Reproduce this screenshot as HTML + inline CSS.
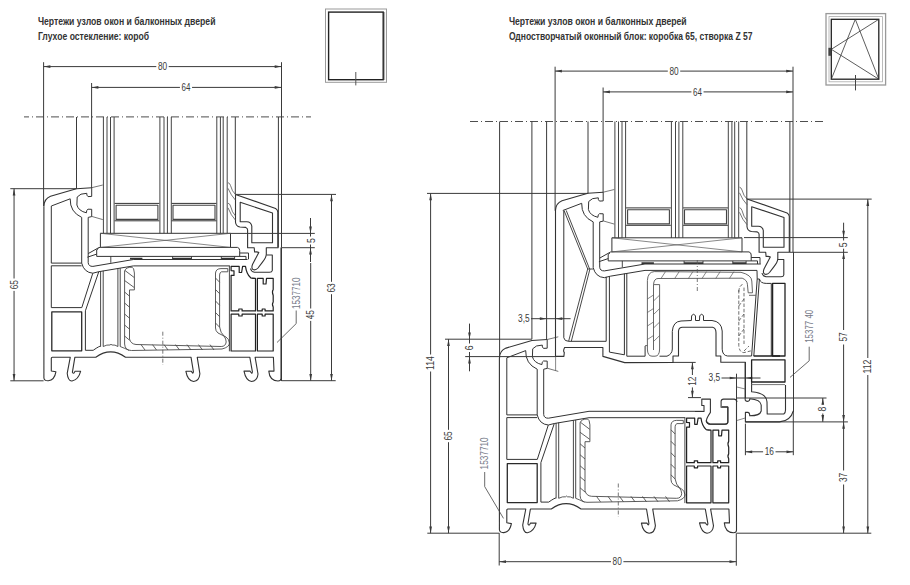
<!DOCTYPE html>
<html><head><meta charset="utf-8">
<style>
html,body{margin:0;padding:0;background:#fff;width:910px;height:585px;overflow:hidden}
svg{display:block}
.t{font-family:"Liberation Sans",sans-serif;font-weight:bold;font-size:10px;fill:#333}
.d{font-family:"Liberation Sans",sans-serif;font-size:10.2px;fill:#3a3a3a}
.lb{font-family:"Liberation Sans",sans-serif;font-size:10.8px;fill:#767a88}
</style></head><body>
<svg width="910" height="585" viewBox="0 0 910 585">
<text class="t" x="37.9" y="24.6" textLength="177.6" lengthAdjust="spacingAndGlyphs">Чертежи узлов окон и балконных дверей</text>
<text class="t" x="37.9" y="39.7" textLength="111.2" lengthAdjust="spacingAndGlyphs">Глухое остекление: короб</text>
<text class="t" x="508.9" y="24.6" textLength="177.8" lengthAdjust="spacingAndGlyphs">Чертежи узлов окон и балконных дверей</text>
<text class="t" x="508.9" y="39.7" textLength="243.6" lengthAdjust="spacingAndGlyphs">Одностворчатый оконный блок: коробка 65, створка Z 57</text>
<g fill="none">
<rect x="325.5" y="9" width="61" height="73.3" stroke="#9a9a9a" stroke-width="1"/>
<rect x="328.6" y="12.1" width="54.6" height="67.6" stroke="#222" stroke-width="1.4"/>
<line x1="384.6" y1="12" x2="384.6" y2="80" stroke="#aaa" stroke-width="1"/>
<line x1="355.8" y1="72" x2="355.8" y2="85.4" stroke="#555" stroke-width="1"/>
</g>
<g fill="none">
<rect x="826" y="13.6" width="59.6" height="71.4" stroke="#999" stroke-width="1.3"/>
<rect x="829" y="16.6" width="53.4" height="65.2" stroke="#aaa" stroke-width="0.8"/>
<rect x="831.3" y="19.3" width="47.5" height="59.9" stroke="#222" stroke-width="1.3"/>
<path d="M831.3,79.2 L855.3,19.3 L878.8,79.2 M878.8,19.3 L831.3,49.3 L878.8,79.2" stroke="#333" stroke-width="0.8"/>
<rect x="828.4" y="47.8" width="2.8" height="8" fill="#444" stroke="none"/>
<line x1="855.5" y1="75" x2="855.5" y2="90.4" stroke="#444" stroke-width="1"/>
</g>
<path d="M103.4,117 L103.4,233.3 M107,117 L107,233.3 M110.5,117 L110.5,233.3 M114.1,117 L114.1,233.3" fill="none" stroke="#444" stroke-width="1.0" stroke-linejoin="round" />
<path d="M159.9,117 L159.9,233.3 M164,117 L164,233.3 M167.4,117 L167.4,233.3 M171.3,117 L171.3,233.3" fill="none" stroke="#444" stroke-width="1.0" stroke-linejoin="round" />
<path d="M216.8,117 L216.8,233.3 M220.4,117 L220.4,233.3 M223.2,117 L223.2,233.3 M227.2,117 L227.2,233.3" fill="none" stroke="#444" stroke-width="1.0" stroke-linejoin="round" />
<path d="M114.6,203.4 L159.3,203.4 M114.6,220.8 L159.3,220.8 M171.6,203.4 L216.4,203.4 M171.6,220.8 L216.4,220.8" fill="none" stroke="#333" stroke-width="1.0" stroke-linejoin="round" />
<path d="M116.1,205.2 L157.9,205.2 L157.9,219.4 L116.1,219.4 Z M173,205.2 L215,205.2 L215,219.4 L173,219.4 Z" fill="none" stroke="#444" stroke-width="1.1" stroke-linejoin="round" />
<path d="M100.4,233.3 L230.5,233.3 L230.5,247.4 L100.4,247.4 Z" fill="none" stroke="#333" stroke-width="1.0" stroke-linejoin="round" />
<path d="M100.4,233.3 L230.5,247.4 M100.4,247.4 L230.5,233.3" fill="none" stroke="#555" stroke-width="0.7" stroke-linejoin="round" />
<path d="M100.3,247.5 L99,247.5 L88.2,253.6 M98.4,248.6 L96.7,249.8 L96.7,256.4 L246,256.4 L246,259.5 M96.7,254.1 L87.4,257.2" fill="none" stroke="#333" stroke-width="1.0" stroke-linejoin="round" />
<path d="M230.5,247.4 L237.5,247.4 Q239.7,248 239.7,250.5 L239.7,256.4" fill="none" stroke="#333" stroke-width="1.0" stroke-linejoin="round" />
<path d="M172.6,256.4 L172.6,259.5 M191.5,256.4 L191.5,259.5 M221.3,256.4 L221.3,259.5 M234.6,256.4 L234.6,259.5 M110.8,256.4 L110.8,262.8" fill="none" stroke="#333" stroke-width="0.9" stroke-linejoin="round" />
<path d="M130,258.6 L142.4,258.6 M172.6,258.6 L191.5,258.6 M221.3,258.6 L234.6,258.6" fill="none" stroke="#333" stroke-width="1.6" stroke-linejoin="round" />
<path d="M239.7,253 L248.5,253 L248.5,259.3" fill="none" stroke="#333" stroke-width="1.0" stroke-linejoin="round" />
<path d="M235.5,194.5 L275.6,208.4 Q277.6,209.5 277.8,212 L277.8,247.6 M240.2,202.2 L272.5,213 L272.5,242.8 L251.8,242.8 L251.8,226 Q251,221.7 246.8,221.7 L240.2,221.7 Z" fill="none" stroke="#333" stroke-width="1.1" stroke-linejoin="round" />
<path d="M235.5,194.4 L235.5,222.2 Q236,226.3 240,227 L245.8,227.4 Q247.6,228 247.6,230 L247.6,247.7 L254.2,247.7 L254.6,252 Q257.5,251.5 258.8,252.5 L252.6,264.2 Q251,268.3 253,269.6 Q255.8,270.5 258,268 L262.3,262.3 Q266.3,257.5 266.3,254 L266.3,247.7 L278.5,247.7" fill="none" stroke="#333" stroke-width="1.1" stroke-linejoin="round" />
<path d="M228,182.7 Q229.8,183 230.5,185.5 Q232,191.5 235.5,194.5 M228,188.3 Q231,195.5 235.5,200.2 M228,203.2 Q229.8,203.5 230.5,206 Q232,212.5 235.5,216 M228,207.8 Q231,215.5 235.5,220.2" fill="none" stroke="#555" stroke-width="0.8" stroke-linejoin="round" />
<line x1="281.5" y1="62.2" x2="281.5" y2="247.5" stroke="#3a3a3a" stroke-width="1.0"/>
<line x1="278.4" y1="117" x2="278.4" y2="247.5" stroke="#3a3a3a" stroke-width="1.0"/>
<line x1="76.5" y1="117" x2="76.5" y2="188.7" stroke="#3a3a3a" stroke-width="1.0"/>
<line x1="235.3" y1="117" x2="235.3" y2="194.4" stroke="#3a3a3a" stroke-width="1.0"/>
<line x1="43.6" y1="62.2" x2="43.6" y2="206" stroke="#3a3a3a" stroke-width="1.0"/>
<line x1="91.6" y1="83" x2="91.6" y2="188" stroke="#3a3a3a" stroke-width="1.0"/>
<path d="M43.60,66.60 L50.40,65.25 L50.40,67.95z" fill="#3a3a3a"/>
<path d="M281.50,66.60 L274.70,67.95 L274.70,65.25z" fill="#3a3a3a"/>
<line x1="43.6" y1="66.6" x2="156.3" y2="66.6" stroke="#3a3a3a" stroke-width="1.0"/>
<line x1="168.7" y1="66.6" x2="281.5" y2="66.6" stroke="#3a3a3a" stroke-width="1.0"/>
<text class="d" x="157.90" y="70.25" textLength="9.20" lengthAdjust="spacingAndGlyphs">80</text>
<path d="M91.60,87.40 L98.40,86.05 L98.40,88.75z" fill="#3a3a3a"/>
<path d="M281.50,87.40 L274.70,88.75 L274.70,86.05z" fill="#3a3a3a"/>
<line x1="91.6" y1="87.4" x2="179.95" y2="87.4" stroke="#3a3a3a" stroke-width="1.0"/>
<line x1="192.05" y1="87.4" x2="281.5" y2="87.4" stroke="#3a3a3a" stroke-width="1.0"/>
<text class="d" x="181.55" y="91.05" textLength="8.90" lengthAdjust="spacingAndGlyphs">64</text>
<line x1="281.5" y1="247.5" x2="281.5" y2="381" stroke="#3a3a3a" stroke-width="1.0"/>
<line x1="24" y1="116.9" x2="311" y2="116.9" stroke="#444" stroke-width="0.95" stroke-dasharray="8 3 1 3" stroke-dashoffset="3"/>
<line x1="10.3" y1="188.7" x2="76.4" y2="188.7" stroke="#3a3a3a" stroke-width="1.0"/>
<line x1="10.3" y1="380.8" x2="43.6" y2="380.8" stroke="#3a3a3a" stroke-width="1.0"/>
<path d="M14.05,188.70 L15.40,195.50 L12.70,195.50z" fill="#3a3a3a"/>
<path d="M14.05,380.80 L12.70,374.00 L15.40,374.00z" fill="#3a3a3a"/>
<line x1="14.05" y1="188.7" x2="14.05" y2="278.5" stroke="#3a3a3a" stroke-width="1.0"/>
<line x1="14.05" y1="290.9" x2="14.05" y2="380.8" stroke="#3a3a3a" stroke-width="1.0"/>
<text class="d" transform="translate(14.05,284.70) rotate(-90)" x="-4.60" y="3.65" textLength="9.20" lengthAdjust="spacingAndGlyphs">65</text>
<line x1="235.3" y1="194.4" x2="336" y2="194.4" stroke="#3a3a3a" stroke-width="1.0"/>
<line x1="230.5" y1="233.4" x2="314.8" y2="233.4" stroke="#3a3a3a" stroke-width="1.0"/>
<line x1="281.5" y1="247.7" x2="314.8" y2="247.7" stroke="#3a3a3a" stroke-width="1.0"/>
<line x1="281.5" y1="380.7" x2="335.7" y2="380.7" stroke="#3a3a3a" stroke-width="1.0"/>
<path d="M331.50,194.40 L332.85,201.20 L330.15,201.20z" fill="#3a3a3a"/>
<path d="M331.50,380.70 L330.15,373.90 L332.85,373.90z" fill="#3a3a3a"/>
<line x1="331.5" y1="194.4" x2="331.5" y2="281.8" stroke="#3a3a3a" stroke-width="1.0"/>
<line x1="331.5" y1="294.2" x2="331.5" y2="380.7" stroke="#3a3a3a" stroke-width="1.0"/>
<text class="d" transform="translate(331.50,288.00) rotate(-90)" x="-4.60" y="3.65" textLength="9.20" lengthAdjust="spacingAndGlyphs">63</text>
<path d="M310.50,233.40 L309.15,226.60 L311.85,226.60z" fill="#3a3a3a"/>
<line x1="310.5" y1="218" x2="310.5" y2="236.5" stroke="#3a3a3a" stroke-width="1.0"/>
<path d="M310.50,247.70 L311.85,254.50 L309.15,254.50z" fill="#3a3a3a"/>
<line x1="310.5" y1="244.5" x2="310.5" y2="262" stroke="#3a3a3a" stroke-width="1.0"/>
<text class="d" transform="translate(311.00,240.60) rotate(-90)" x="-2.40" y="3.65" textLength="4.80" lengthAdjust="spacingAndGlyphs">5</text>
<path d="M310.70,380.70 L309.35,373.90 L312.05,373.90z" fill="#3a3a3a"/>
<line x1="310.7" y1="263" x2="310.7" y2="308.5" stroke="#3a3a3a" stroke-width="1.0"/>
<line x1="310.7" y1="320.9" x2="310.7" y2="380.7" stroke="#3a3a3a" stroke-width="1.0"/>
<text class="d" transform="translate(310.70,314.70) rotate(-90)" x="-4.60" y="3.65" textLength="9.20" lengthAdjust="spacingAndGlyphs">45</text>
<text class="lb" transform="translate(296.50,293.20) rotate(-90)" x="-15.75" y="3.65" textLength="31.50" lengthAdjust="spacingAndGlyphs">1537710</text>
<path d="M296.2,310.5 L296.2,323.6 L277,342.5" fill="none" stroke="#444" stroke-width="0.8" stroke-linejoin="round" />
<path d="M91.7,187.7 L76.4,188.7 L50.5,196.3 Q44.2,198.8 43.9,206.2" fill="none" stroke="#333" stroke-width="1.1" stroke-linejoin="round" />
<path d="M51.3,206 L70.2,198.8 Q69.8,212 81.7,217.4 L81.7,263.1 Q84,272.5 92.8,273.2 L98.8,271.7 L133.5,265.9" fill="none" stroke="#333" stroke-width="1.0" stroke-linejoin="round" />
<path d="M91.7,187.7 L91.7,196.4 L88,196.6 Q86.4,195.3 86.8,193.3 Q80,193.2 77.2,197 L76.9,205 Q78.5,211 86.4,212.8 Q86.3,209.8 88,209.2 L91.7,209.3 L91.7,216.6 L88.2,217.4 L88.2,262.7 Q88.5,266.5 92.9,266.4 L133.5,259.5" fill="none" stroke="#333" stroke-width="1.0" stroke-linejoin="round" />
<path d="M91.7,187.7 L102.8,185 M91.7,216.4 L102.8,219.6" fill="none" stroke="#555" stroke-width="0.8" stroke-linejoin="round" />
<path d="M266.5,255 L272.3,255 L272.3,270.5 Q272,272.3 269.5,272.3 L254.5,272.3 Q251,271.5 250.5,268.5" fill="none" stroke="#333" stroke-width="1.1" stroke-linejoin="round" />
<path d="M43.9,206.2 L43.9,378 Q44.3,381 48.3,380.8 Q54.5,380 55.9,371.8 L51.3,371 L51.3,358.2 Q51.3,357.2 52.3,357.2 L70.3,357.2 L67.2,373.3 Q68,381.3 72,381 Q78.5,379.5 80.6,371.3 L74.9,371.3 Q73.8,374.8 72.4,372.2 L74.9,357.2 L95.8,357.2 Q110.6,346.5 125.5,357.2 L191,357.2 L193.4,371.6 Q193,374.8 191.4,371.3 L185.9,371.3 Q187.5,380.5 193.6,381.5 Q199.3,381 199.9,373.8 L197.2,357.2 L249.8,357.2 L252.4,371.8 Q252,374.8 250,371.1 L244,371.1 Q245.8,380.5 251.5,381.5 Q257.3,381 258,374 L255.1,357.2 L273.4,357.2 L274,371.1 L268.8,371.1 Q269.5,380.5 278,381 Q281,381 281,378.5 L281,247.4" fill="none" stroke="#333" stroke-width="1.1" stroke-linejoin="round" />
<path d="M51.3,206 L51.3,263.1 L81.7,263.1" fill="none" stroke="#333" stroke-width="1.0" stroke-linejoin="round" />
<path d="M51.3,265.8 L81.6,265.8 M92.8,273.2 L81.8,307.6 L51.3,307.6 L51.3,265.8" fill="none" stroke="#333" stroke-width="1.0" stroke-linejoin="round" />
<path d="M133.5,265.9 L229.8,265.9 M133.5,259.5 L247.5,259.5" fill="none" stroke="#333" stroke-width="1.0" stroke-linejoin="round" />
<path d="M98.8,271.7 L85.4,310.8 L85.4,350.3 L93.2,350.3 Q100,345.5 100.6,346.4" fill="none" stroke="#333" stroke-width="1.0" stroke-linejoin="round" />
<path d="M51.8,311.9 L81.7,311.9 L81.7,350.8 L51.8,350.8 Z" fill="none" stroke="#2a2a2a" stroke-width="1.3" stroke-linejoin="round" />
<path d="M100.6,271.2 L100.6,346.5 M103.2,270.8 L103.2,346.5 M117.9,268.5 L117.9,346.5 M120.2,268.2 L120.2,346.5" fill="none" stroke="#333" stroke-width="0.9" stroke-linejoin="round" />
<path d="M103.2,346.5 Q107,344.5 110,345 Q111,343.5 112,345 Q115,344.5 117.9,346.5" fill="none" stroke="#333" stroke-width="0.8" stroke-linejoin="round" />
<path d="M120.2,346.5 Q124,348 129,350.3" fill="none" stroke="#333" stroke-width="0.8" stroke-linejoin="round" />
<path d="M132,267.2 Q126,267 124.6,271 L124.6,344 Q125,350.5 131.5,350.5 L222,349 Q229.5,347 229.5,343 Q229,339 226,337 L218,333 Q215.5,331 215.5,328 L215.5,273 Q216,268.6 221,268.6 L227.8,268.6 L227.8,271.8 L221.5,271.8 Q219.6,272.5 219.6,275 L219.6,327 Q220.5,333 224,336 Q226.2,339 226.2,342 Q225.5,346.5 221.2,346.5 L136,344.5 Q130.8,344 129.5,339 L129.5,289.9 L134.4,289.9 L134.4,273 Q134,267.5 132,267.2" fill="none" stroke="#4a4a4a" stroke-width="0.9" stroke-linejoin="round" />
<path d="M125,270.5 L134.2,277.5 M124.6,280.5 L134.2,287.5 M124.6,292 L129.5,296.2 M124.6,303 L129.5,307.2 M124.6,314 L129.5,318.2 M124.6,325 L129.5,329.2 M124.6,336 L129.5,340.2 M215.5,278 L219.6,282.2 M215.5,289.5 L219.6,293.7 M215.5,301 L219.6,305.2 M215.5,312.5 L219.6,316.7 M215.5,323 L219.6,327.2 M141,344.6 L145,350 M152.5,344.6 L156.5,350 M164,344.6 L168,350 M175.5,344.6 L179.5,350 M187,344.6 L191,350 M198.5,344.6 L202.5,350 M210,344.6 L214,350" fill="none" stroke="#444" stroke-width="0.85" stroke-linejoin="round" />
<line x1="162.8" y1="331.7" x2="162.8" y2="365" stroke="#555" stroke-width="0.8" stroke-dasharray="4 2 1 2"/>
<path d="M229.4,265.9 L229.4,351.3" fill="none" stroke="#333" stroke-width="0.9" stroke-linejoin="round" />
<path d="M231.1,266.3 L239.2,266.3 L239.2,272.5 L241.6,272.5 L242.6,266.3 L245.5,266.3 Q246.5,274 250.7,277.8 Q252.5,278.3 255.5,278.3 L255.5,310.9 L242.1,310.9 L242.1,309 L238.8,309 L238.8,310.9 L231.1,310.9 L231.1,275.4 L234,275.4 L234,270.8 L231.1,270.6 Z" fill="none" stroke="#222" stroke-width="1.2" stroke-linejoin="round" />
<path d="M257.4,278.3 L263.2,278.3 L263.2,284 L266,284 L266.5,278.3 L273.2,278.3 L273.2,289.5 Q271.7,291.5 273.2,295.5 L273.2,302 Q271.7,304 273.2,307 L273.2,310.9 L265.1,310.9 L265.1,309 L262.2,309 L262.2,310.9 L257.4,310.9 Z" fill="none" stroke="#222" stroke-width="1.2" stroke-linejoin="round" />
<path d="M231.1,314.2 L238.8,314.2 L238.8,316 L242.1,316 L242.1,314.2 L255.5,314.2 L255.5,351 L231.1,351 Z" fill="none" stroke="#222" stroke-width="1.2" stroke-linejoin="round" />
<path d="M257.4,314.2 L262.2,314.2 L262.2,316 L265.1,316 L265.1,314.2 L273.2,314.2 L273.2,351 L257.4,351 Z" fill="none" stroke="#222" stroke-width="1.2" stroke-linejoin="round" />
<g transform="translate(455.5,151.8)">
<path d="M91.7,187.7 L76.4,188.7 L50.5,196.3 Q44.2,198.8 43.9,206.2" fill="none" stroke="#333" stroke-width="1.1" stroke-linejoin="round" />
<path d="M51.3,206 L70.2,198.8 Q69.8,212 81.7,217.4 L81.7,263.1 Q84,272.5 92.8,273.2 L98.8,271.7 L133.5,265.9" fill="none" stroke="#333" stroke-width="1.0" stroke-linejoin="round" />
<path d="M91.7,187.7 L91.7,196.4 L88,196.6 Q86.4,195.3 86.8,193.3 Q80,193.2 77.2,197 L76.9,205 Q78.5,211 86.4,212.8 Q86.3,209.8 88,209.2 L91.7,209.3 L91.7,216.6 L88.2,217.4 L88.2,262.7 Q88.5,266.5 92.9,266.4 L133.5,259.5" fill="none" stroke="#333" stroke-width="1.0" stroke-linejoin="round" />
<path d="M91.7,187.7 L102.8,185 M91.7,216.4 L102.8,219.6" fill="none" stroke="#555" stroke-width="0.8" stroke-linejoin="round" />
<path d="M266.5,255 L272.3,255 L272.3,270.5 Q272,272.3 269.5,272.3 L254.5,272.3 Q251,271.5 250.5,268.5" fill="none" stroke="#333" stroke-width="1.1" stroke-linejoin="round" />
<path d="M43.9,206.2 L43.9,378 Q44.3,381 48.3,380.8 Q54.5,380 55.9,371.8 L51.3,371 L51.3,358.2 Q51.3,357.2 52.3,357.2 L70.3,357.2 L67.2,373.3 Q68,381.3 72,381 Q78.5,379.5 80.6,371.3 L74.9,371.3 Q73.8,374.8 72.4,372.2 L74.9,357.2 L95.8,357.2 Q110.6,346.5 125.5,357.2 L191,357.2 L193.4,371.6 Q193,374.8 191.4,371.3 L185.9,371.3 Q187.5,380.5 193.6,381.5 Q199.3,381 199.9,373.8 L197.2,357.2 L249.8,357.2 L252.4,371.8 Q252,374.8 250,371.1 L244,371.1 Q245.8,380.5 251.5,381.5 Q257.3,381 258,374 L255.1,357.2 L273.4,357.2 L274,371.1 L268.8,371.1 Q269.5,380.5 278,381 Q281,381 281,378.5 L281,247.4" fill="none" stroke="#333" stroke-width="1.1" stroke-linejoin="round" />
<path d="M51.3,206 L51.3,263.1 L81.7,263.1" fill="none" stroke="#333" stroke-width="1.0" stroke-linejoin="round" />
<path d="M51.3,265.8 L81.6,265.8 M92.8,273.2 L81.8,307.6 L51.3,307.6 L51.3,265.8" fill="none" stroke="#333" stroke-width="1.0" stroke-linejoin="round" />
<path d="M133.5,265.9 L229.8,265.9 M133.5,259.5 L247.5,259.5" fill="none" stroke="#333" stroke-width="1.0" stroke-linejoin="round" />
<path d="M98.8,271.7 L85.4,310.8 L85.4,350.3 L93.2,350.3 Q100,345.5 100.6,346.4" fill="none" stroke="#333" stroke-width="1.0" stroke-linejoin="round" />
<path d="M51.8,311.9 L81.7,311.9 L81.7,350.8 L51.8,350.8 Z" fill="none" stroke="#2a2a2a" stroke-width="1.3" stroke-linejoin="round" />
<path d="M100.6,271.2 L100.6,346.5 M103.2,270.8 L103.2,346.5 M117.9,268.5 L117.9,346.5 M120.2,268.2 L120.2,346.5" fill="none" stroke="#333" stroke-width="0.9" stroke-linejoin="round" />
<path d="M103.2,346.5 Q107,344.5 110,345 Q111,343.5 112,345 Q115,344.5 117.9,346.5" fill="none" stroke="#333" stroke-width="0.8" stroke-linejoin="round" />
<path d="M120.2,346.5 Q124,348 129,350.3" fill="none" stroke="#333" stroke-width="0.8" stroke-linejoin="round" />
<path d="M132,267.2 Q126,267 124.6,271 L124.6,344 Q125,350.5 131.5,350.5 L222,349 Q229.5,347 229.5,343 Q229,339 226,337 L218,333 Q215.5,331 215.5,328 L215.5,273 Q216,268.6 221,268.6 L227.8,268.6 L227.8,271.8 L221.5,271.8 Q219.6,272.5 219.6,275 L219.6,327 Q220.5,333 224,336 Q226.2,339 226.2,342 Q225.5,346.5 221.2,346.5 L136,344.5 Q130.8,344 129.5,339 L129.5,289.9 L134.4,289.9 L134.4,273 Q134,267.5 132,267.2" fill="none" stroke="#4a4a4a" stroke-width="0.9" stroke-linejoin="round" />
<path d="M125,270.5 L134.2,277.5 M124.6,280.5 L134.2,287.5 M124.6,292 L129.5,296.2 M124.6,303 L129.5,307.2 M124.6,314 L129.5,318.2 M124.6,325 L129.5,329.2 M124.6,336 L129.5,340.2 M215.5,278 L219.6,282.2 M215.5,289.5 L219.6,293.7 M215.5,301 L219.6,305.2 M215.5,312.5 L219.6,316.7 M215.5,323 L219.6,327.2 M141,344.6 L145,350 M152.5,344.6 L156.5,350 M164,344.6 L168,350 M175.5,344.6 L179.5,350 M187,344.6 L191,350 M198.5,344.6 L202.5,350 M210,344.6 L214,350" fill="none" stroke="#444" stroke-width="0.85" stroke-linejoin="round" />
<line x1="162.8" y1="331.7" x2="162.8" y2="365" stroke="#555" stroke-width="0.8" stroke-dasharray="4 2 1 2"/>
<path d="M229.4,265.9 L229.4,351.3" fill="none" stroke="#333" stroke-width="0.9" stroke-linejoin="round" />
<path d="M231.1,266.3 L239.2,266.3 L239.2,272.5 L241.6,272.5 L242.6,266.3 L245.5,266.3 Q246.5,274 250.7,277.8 Q252.5,278.3 255.5,278.3 L255.5,310.9 L242.1,310.9 L242.1,309 L238.8,309 L238.8,310.9 L231.1,310.9 L231.1,275.4 L234,275.4 L234,270.8 L231.1,270.6 Z" fill="none" stroke="#222" stroke-width="1.2" stroke-linejoin="round" />
<path d="M257.4,278.3 L263.2,278.3 L263.2,284 L266,284 L266.5,278.3 L273.2,278.3 L273.2,289.5 Q271.7,291.5 273.2,295.5 L273.2,302 Q271.7,304 273.2,307 L273.2,310.9 L265.1,310.9 L265.1,309 L262.2,309 L262.2,310.9 L257.4,310.9 Z" fill="none" stroke="#222" stroke-width="1.2" stroke-linejoin="round" />
<path d="M231.1,314.2 L238.8,314.2 L238.8,316 L242.1,316 L242.1,314.2 L255.5,314.2 L255.5,351 L231.1,351 Z" fill="none" stroke="#222" stroke-width="1.2" stroke-linejoin="round" />
<path d="M257.4,314.2 L262.2,314.2 L262.2,316 L265.1,316 L265.1,314.2 L273.2,314.2 L273.2,351 L257.4,351 Z" fill="none" stroke="#222" stroke-width="1.2" stroke-linejoin="round" />
</g>
<g transform="translate(511.5,4.5)">
<path d="M103.4,117 L103.4,233.3 M107,117 L107,233.3 M110.5,117 L110.5,233.3 M114.1,117 L114.1,233.3" fill="none" stroke="#444" stroke-width="1.0" stroke-linejoin="round" />
<path d="M159.9,117 L159.9,233.3 M164,117 L164,233.3 M167.4,117 L167.4,233.3 M171.3,117 L171.3,233.3" fill="none" stroke="#444" stroke-width="1.0" stroke-linejoin="round" />
<path d="M216.8,117 L216.8,233.3 M220.4,117 L220.4,233.3 M223.2,117 L223.2,233.3 M227.2,117 L227.2,233.3" fill="none" stroke="#444" stroke-width="1.0" stroke-linejoin="round" />
<path d="M114.6,203.4 L159.3,203.4 M114.6,220.8 L159.3,220.8 M171.6,203.4 L216.4,203.4 M171.6,220.8 L216.4,220.8" fill="none" stroke="#333" stroke-width="1.0" stroke-linejoin="round" />
<path d="M116.1,205.2 L157.9,205.2 L157.9,219.4 L116.1,219.4 Z M173,205.2 L215,205.2 L215,219.4 L173,219.4 Z" fill="none" stroke="#444" stroke-width="1.1" stroke-linejoin="round" />
<path d="M100.4,233.3 L230.5,233.3 L230.5,247.4 L100.4,247.4 Z" fill="none" stroke="#333" stroke-width="1.0" stroke-linejoin="round" />
<path d="M100.4,233.3 L230.5,247.4 M100.4,247.4 L230.5,233.3" fill="none" stroke="#555" stroke-width="0.7" stroke-linejoin="round" />
<path d="M100.3,247.5 L99,247.5 L88.2,253.6 M98.4,248.6 L96.7,249.8 L96.7,256.4 L246,256.4 L246,259.5 M96.7,254.1 L87.4,257.2" fill="none" stroke="#333" stroke-width="1.0" stroke-linejoin="round" />
<path d="M230.5,247.4 L237.5,247.4 Q239.7,248 239.7,250.5 L239.7,256.4" fill="none" stroke="#333" stroke-width="1.0" stroke-linejoin="round" />
<path d="M172.6,256.4 L172.6,259.5 M191.5,256.4 L191.5,259.5 M221.3,256.4 L221.3,259.5 M234.6,256.4 L234.6,259.5 M110.8,256.4 L110.8,262.8" fill="none" stroke="#333" stroke-width="0.9" stroke-linejoin="round" />
<path d="M130,258.6 L142.4,258.6 M172.6,258.6 L191.5,258.6 M221.3,258.6 L234.6,258.6" fill="none" stroke="#333" stroke-width="1.6" stroke-linejoin="round" />
<path d="M239.7,253 L248.5,253 L248.5,259.3" fill="none" stroke="#333" stroke-width="1.0" stroke-linejoin="round" />
<path d="M235.5,194.5 L275.6,208.4 Q277.6,209.5 277.8,212 L277.8,247.6 M240.2,202.2 L272.5,213 L272.5,242.8 L251.8,242.8 L251.8,226 Q251,221.7 246.8,221.7 L240.2,221.7 Z" fill="none" stroke="#333" stroke-width="1.1" stroke-linejoin="round" />
<path d="M235.5,194.4 L235.5,222.2 Q236,226.3 240,227 L245.8,227.4 Q247.6,228 247.6,230 L247.6,247.7 L254.2,247.7 L254.6,252 Q257.5,251.5 258.8,252.5 L252.6,264.2 Q251,268.3 253,269.6 Q255.8,270.5 258,268 L262.3,262.3 Q266.3,257.5 266.3,254 L266.3,247.7 L278.5,247.7" fill="none" stroke="#333" stroke-width="1.1" stroke-linejoin="round" />
<path d="M228,182.7 Q229.8,183 230.5,185.5 Q232,191.5 235.5,194.5 M228,188.3 Q231,195.5 235.5,200.2 M228,203.2 Q229.8,203.5 230.5,206 Q232,212.5 235.5,216 M228,207.8 Q231,215.5 235.5,220.2" fill="none" stroke="#555" stroke-width="0.8" stroke-linejoin="round" />
<line x1="281.5" y1="62.2" x2="281.5" y2="247.5" stroke="#3a3a3a" stroke-width="1.0"/>
<line x1="278.4" y1="117" x2="278.4" y2="247.5" stroke="#3a3a3a" stroke-width="1.0"/>
<line x1="76.5" y1="117" x2="76.5" y2="188.7" stroke="#3a3a3a" stroke-width="1.0"/>
<line x1="235.3" y1="117" x2="235.3" y2="194.4" stroke="#3a3a3a" stroke-width="1.0"/>
<line x1="43.6" y1="62.2" x2="43.6" y2="206" stroke="#3a3a3a" stroke-width="1.0"/>
<line x1="91.6" y1="83" x2="91.6" y2="188" stroke="#3a3a3a" stroke-width="1.0"/>
<path d="M43.60,66.60 L50.40,65.25 L50.40,67.95z" fill="#3a3a3a"/>
<path d="M281.50,66.60 L274.70,67.95 L274.70,65.25z" fill="#3a3a3a"/>
<line x1="43.6" y1="66.6" x2="156.3" y2="66.6" stroke="#3a3a3a" stroke-width="1.0"/>
<line x1="168.7" y1="66.6" x2="281.5" y2="66.6" stroke="#3a3a3a" stroke-width="1.0"/>
<text class="d" x="157.90" y="70.25" textLength="9.20" lengthAdjust="spacingAndGlyphs">80</text>
<path d="M91.60,87.40 L98.40,86.05 L98.40,88.75z" fill="#3a3a3a"/>
<path d="M281.50,87.40 L274.70,88.75 L274.70,86.05z" fill="#3a3a3a"/>
<line x1="91.6" y1="87.4" x2="179.95" y2="87.4" stroke="#3a3a3a" stroke-width="1.0"/>
<line x1="192.05" y1="87.4" x2="281.5" y2="87.4" stroke="#3a3a3a" stroke-width="1.0"/>
<text class="d" x="181.55" y="91.05" textLength="8.90" lengthAdjust="spacingAndGlyphs">64</text>
<path d="M91.7,187.7 L76.4,188.7 L50.5,196.3 Q44.2,198.8 43.9,206.2" fill="none" stroke="#333" stroke-width="1.1" stroke-linejoin="round" />
<path d="M51.3,206 L70.2,198.8 Q69.8,212 81.7,217.4 L81.7,263.1 Q84,272.5 92.8,273.2 L98.8,271.7 L133.5,265.9" fill="none" stroke="#333" stroke-width="1.0" stroke-linejoin="round" />
<path d="M91.7,187.7 L91.7,196.4 L88,196.6 Q86.4,195.3 86.8,193.3 Q80,193.2 77.2,197 L76.9,205 Q78.5,211 86.4,212.8 Q86.3,209.8 88,209.2 L91.7,209.3 L91.7,216.6 L88.2,217.4 L88.2,262.7 Q88.5,266.5 92.9,266.4 L133.5,259.5" fill="none" stroke="#333" stroke-width="1.0" stroke-linejoin="round" />
<path d="M91.7,187.7 L102.8,185 M91.7,216.4 L102.8,219.6" fill="none" stroke="#555" stroke-width="0.8" stroke-linejoin="round" />
<path d="M266.5,255 L272.3,255 L272.3,270.5 Q272,272.3 269.5,272.3 L254.5,272.3 Q251,271.5 250.5,268.5" fill="none" stroke="#333" stroke-width="1.1" stroke-linejoin="round" />
</g>
<line x1="793.5" y1="252" x2="793.5" y2="412" stroke="#3a3a3a" stroke-width="1.0"/>
<line x1="470" y1="121.5" x2="823" y2="121.5" stroke="#444" stroke-width="0.95" stroke-dasharray="8 3 1 3"/>
<line x1="499.6" y1="121.5" x2="499.6" y2="358" stroke="#3a3a3a" stroke-width="1.0"/>
<line x1="531.9" y1="121.5" x2="531.9" y2="339.2" stroke="#3a3a3a" stroke-width="1.0"/>
<line x1="546.6" y1="121.5" x2="546.6" y2="340" stroke="#3a3a3a" stroke-width="1.0"/>
<line x1="427" y1="193.4" x2="588.2" y2="193.4" stroke="#3a3a3a" stroke-width="1.0"/>
<line x1="445" y1="339.2" x2="531.9" y2="339.2" stroke="#3a3a3a" stroke-width="1.0"/>
<line x1="465.2" y1="356.6" x2="555.7" y2="356.6" stroke="#3a3a3a" stroke-width="1.0"/>
<line x1="427.3" y1="533.2" x2="499.4" y2="533.2" stroke="#3a3a3a" stroke-width="1.0"/>
<line x1="736.6" y1="533.2" x2="871.3" y2="533.2" stroke="#3a3a3a" stroke-width="1.0"/>
<line x1="736.3" y1="533.2" x2="736.3" y2="565.7" stroke="#3a3a3a" stroke-width="1.0"/>
<line x1="499.2" y1="533.2" x2="499.2" y2="565.5" stroke="#3a3a3a" stroke-width="1.0"/>
<path d="M430.60,193.40 L431.95,200.20 L429.25,200.20z" fill="#3a3a3a"/>
<path d="M430.60,533.20 L429.25,526.40 L431.95,526.40z" fill="#3a3a3a"/>
<line x1="430.6" y1="193.4" x2="430.6" y2="354.5" stroke="#3a3a3a" stroke-width="1.0"/>
<line x1="430.6" y1="371.5" x2="430.6" y2="533.2" stroke="#3a3a3a" stroke-width="1.0"/>
<text class="d" transform="translate(430.60,363.00) rotate(-90)" x="-6.90" y="3.65" textLength="13.80" lengthAdjust="spacingAndGlyphs">114</text>
<path d="M448.50,339.20 L449.85,346.00 L447.15,346.00z" fill="#3a3a3a"/>
<path d="M448.50,533.20 L447.15,526.40 L449.85,526.40z" fill="#3a3a3a"/>
<line x1="448.5" y1="339.2" x2="448.5" y2="429.8" stroke="#3a3a3a" stroke-width="1.0"/>
<line x1="448.5" y1="442.2" x2="448.5" y2="533.2" stroke="#3a3a3a" stroke-width="1.0"/>
<text class="d" transform="translate(448.50,436.00) rotate(-90)" x="-4.60" y="3.65" textLength="9.20" lengthAdjust="spacingAndGlyphs">65</text>
<path d="M469.50,339.20 L468.15,332.40 L470.85,332.40z" fill="#3a3a3a"/>
<line x1="469.5" y1="323.6" x2="469.5" y2="343.5" stroke="#3a3a3a" stroke-width="1.0"/>
<path d="M469.50,356.60 L470.85,363.40 L468.15,363.40z" fill="#3a3a3a"/>
<line x1="469.5" y1="352" x2="469.5" y2="371.3" stroke="#3a3a3a" stroke-width="1.0"/>
<text class="d" transform="translate(469.60,347.80) rotate(-90)" x="-2.40" y="3.65" textLength="4.80" lengthAdjust="spacingAndGlyphs">6</text>
<text class="d" x="518.00" y="322.35" textLength="11.60" lengthAdjust="spacingAndGlyphs">3,5</text>
<line x1="531" y1="318.7" x2="570.6" y2="318.7" stroke="#3a3a3a" stroke-width="1.0"/>
<path d="M546.60,318.70 L539.80,320.05 L539.80,317.35z" fill="#3a3a3a"/>
<path d="M555.50,318.70 L562.30,317.35 L562.30,320.05z" fill="#3a3a3a"/>
<text class="lb" transform="translate(484.50,453.40) rotate(-90)" x="-16.00" y="3.65" textLength="32.00" lengthAdjust="spacingAndGlyphs">1537710</text>
<path d="M484.7,472 L484.7,486.6 L503.5,518.4" fill="none" stroke="#444" stroke-width="0.8" stroke-linejoin="round" />
<path d="M499.20,561.70 L506.00,560.35 L506.00,563.05z" fill="#3a3a3a"/>
<path d="M736.30,561.70 L729.50,563.05 L729.50,560.35z" fill="#3a3a3a"/>
<line x1="499.2" y1="561.7" x2="611.0" y2="561.7" stroke="#3a3a3a" stroke-width="1.0"/>
<line x1="623.4000000000001" y1="561.7" x2="736.3" y2="561.7" stroke="#3a3a3a" stroke-width="1.0"/>
<text class="d" x="612.60" y="565.35" textLength="9.20" lengthAdjust="spacingAndGlyphs">80</text>
<line x1="746.8" y1="199.1" x2="871.7" y2="199.1" stroke="#3a3a3a" stroke-width="1.0"/>
<line x1="744" y1="237.6" x2="847.8" y2="237.6" stroke="#3a3a3a" stroke-width="1.0"/>
<line x1="790" y1="252.3" x2="847.8" y2="252.3" stroke="#3a3a3a" stroke-width="1.0"/>
<path d="M843.60,237.60 L842.25,230.80 L844.95,230.80z" fill="#3a3a3a"/>
<line x1="843.6" y1="222.7" x2="843.6" y2="240.5" stroke="#3a3a3a" stroke-width="1.0"/>
<path d="M843.60,252.30 L844.95,259.10 L842.25,259.10z" fill="#3a3a3a"/>
<line x1="843.6" y1="248.7" x2="843.6" y2="421.9" stroke="#3a3a3a" stroke-width="1.0"/>
<text class="d" transform="translate(843.80,244.80) rotate(-90)" x="-2.40" y="3.65" textLength="4.80" lengthAdjust="spacingAndGlyphs">5</text>
<path d="M867.80,199.10 L869.15,205.90 L866.45,205.90z" fill="#3a3a3a"/>
<path d="M867.80,533.20 L866.45,526.40 L869.15,526.40z" fill="#3a3a3a"/>
<line x1="867.8" y1="199.1" x2="867.8" y2="358.0" stroke="#3a3a3a" stroke-width="1.0"/>
<line x1="867.8" y1="375.0" x2="867.8" y2="533.2" stroke="#3a3a3a" stroke-width="1.0"/>
<text class="d" transform="translate(867.80,366.50) rotate(-90)" x="-6.90" y="3.65" textLength="13.80" lengthAdjust="spacingAndGlyphs">112</text>
<rect x="839" y="330" width="9" height="14.5" fill="#fff"/>
<text class="d" transform="translate(843.50,337.00) rotate(-90)" x="-4.60" y="3.65" textLength="9.20" lengthAdjust="spacingAndGlyphs">57</text>
<path d="M843.60,421.90 L842.25,415.10 L844.95,415.10z" fill="#3a3a3a"/>
<path d="M843.60,421.90 L844.95,428.70 L842.25,428.70z" fill="#3a3a3a"/>
<rect x="839" y="470" width="9" height="14.5" fill="#fff"/>
<line x1="843.6" y1="421.9" x2="843.6" y2="533.2" stroke="#3a3a3a" stroke-width="1.0"/>
<rect x="839" y="470.5" width="9" height="14" fill="#fff"/>
<text class="d" transform="translate(843.50,477.50) rotate(-90)" x="-4.60" y="3.65" textLength="9.20" lengthAdjust="spacingAndGlyphs">37</text>
<path d="M843.60,533.20 L842.25,526.40 L844.95,526.40z" fill="#3a3a3a"/>
<line x1="736.5" y1="398" x2="826.5" y2="398" stroke="#3a3a3a" stroke-width="1.0"/>
<line x1="745.4" y1="421.9" x2="847.9" y2="421.9" stroke="#3a3a3a" stroke-width="1.0"/>
<path d="M822.80,398.00 L824.15,404.80 L821.45,404.80z" fill="#3a3a3a"/>
<path d="M822.80,421.90 L821.45,415.10 L824.15,415.10z" fill="#3a3a3a"/>
<line x1="822.8" y1="398" x2="822.8" y2="404.5" stroke="#3a3a3a" stroke-width="1.0"/>
<line x1="822.8" y1="413.5" x2="822.8" y2="421.9" stroke="#3a3a3a" stroke-width="1.0"/>
<text class="d" transform="translate(822.80,409.20) rotate(-90)" x="-2.40" y="3.65" textLength="4.80" lengthAdjust="spacingAndGlyphs">8</text>
<line x1="745.4" y1="423.6" x2="745.4" y2="455.2" stroke="#3a3a3a" stroke-width="1.0"/>
<line x1="793.3" y1="412" x2="793.3" y2="455.2" stroke="#3a3a3a" stroke-width="1.0"/>
<path d="M745.40,451.80 L752.20,450.45 L752.20,453.15z" fill="#3a3a3a"/>
<path d="M793.30,451.80 L786.50,453.15 L786.50,450.45z" fill="#3a3a3a"/>
<line x1="745.4" y1="451.8" x2="763.0999999999999" y2="451.8" stroke="#3a3a3a" stroke-width="1.0"/>
<line x1="775.5" y1="451.8" x2="793.3" y2="451.8" stroke="#3a3a3a" stroke-width="1.0"/>
<text class="d" x="764.70" y="455.45" textLength="9.20" lengthAdjust="spacingAndGlyphs">16</text>
<line x1="673" y1="362.4" x2="695.7" y2="362.4" stroke="#3a3a3a" stroke-width="1.0"/>
<line x1="688" y1="397.6" x2="701" y2="397.6" stroke="#3a3a3a" stroke-width="1.0"/>
<path d="M692.40,362.40 L693.75,369.20 L691.05,369.20z" fill="#3a3a3a"/>
<path d="M692.40,397.60 L691.05,390.80 L693.75,390.80z" fill="#3a3a3a"/>
<line x1="692.4" y1="362.4" x2="692.4" y2="375.0" stroke="#3a3a3a" stroke-width="1.0"/>
<line x1="692.4" y1="387.4" x2="692.4" y2="397.6" stroke="#3a3a3a" stroke-width="1.0"/>
<text class="d" transform="translate(692.40,381.20) rotate(-90)" x="-4.60" y="3.65" textLength="9.20" lengthAdjust="spacingAndGlyphs">12</text>
<text class="d" x="708.50" y="381.45" textLength="11.60" lengthAdjust="spacingAndGlyphs">3,5</text>
<line x1="721.5" y1="378" x2="760.5" y2="378" stroke="#3a3a3a" stroke-width="1.0"/>
<path d="M736.50,378.00 L729.70,379.35 L729.70,376.65z" fill="#3a3a3a"/>
<path d="M745.40,378.00 L752.20,376.65 L752.20,379.35z" fill="#3a3a3a"/>
<line x1="736.5" y1="373.7" x2="736.5" y2="422" stroke="#3a3a3a" stroke-width="1.0"/>
<text class="lb" transform="translate(809.30,326.30) rotate(-90)" x="-16.50" y="3.65" textLength="33.00" lengthAdjust="spacingAndGlyphs">15377 40</text>
<path d="M809.2,346.7 L809.2,360.8 L790,377.4" fill="none" stroke="#444" stroke-width="0.8" stroke-linejoin="round" />
<path d="M555.5,209.9 L555.5,356.4 L563.9,356.4 L564.3,352.5 Q562.8,351 564.6,347.5 L602.9,347.5 L602.9,356.4 L624.7,362.6 L673,362.4 L673,356 L678.5,356 L678.5,331 Q679,327.3 682.5,327.3 L712.6,327.3 Q716,328 716,332.8 L716,356 L720.8,356 L720.8,362.2 L745.4,362.2 L745.4,398" fill="none" stroke="#333" stroke-width="1.1" stroke-linejoin="round" />
<path d="M555.6,356.4 L555.6,370.8" fill="none" stroke="#555" stroke-width="0.7" stroke-linejoin="round" />
<path d="M563.8,211 L563.8,337.8 Q564.5,341.3 568.6,341.3 L606.2,341.3 L606.2,276.8" fill="none" stroke="#333" stroke-width="1.0" stroke-linejoin="round" />
<path d="M564,210.4 L587.7,269 L568.6,341.3 M566.2,210.4 L589.8,269.5 L571.3,341.3 M587.7,269 L593.3,269" fill="none" stroke="#333" stroke-width="0.9" stroke-linejoin="round" />
<path d="M609.4,276.2 L609.4,352.1 L624.4,354.8 L624.4,273.6 M626.8,273.2 L626.8,356.2 L645.1,356.2 L645.1,346 M659.5,356.2 L667,356.2 Q672.3,354 672.3,349 L672.3,331.4 Q673,321.5 681,321 L691.4,320.5 L691.6,316 Q693.5,312.5 695.5,316 L695.5,320.5 L699.5,320.5 L699.7,316 Q701.6,312.5 703.5,316 L703.5,320.5 L712,320.5 Q721.5,321.5 722.2,331 L722.2,349.2 Q722.5,355.5 727.6,356 L751.6,356" fill="none" stroke="#333" stroke-width="1.0" stroke-linejoin="round" />
<path d="M645,264 L760.8,264 M645,270.4 L757,270.4 L757.2,279 L751.6,356 M757.2,279 L759.4,279 Q760.5,283.4 766.2,283.4 L771.3,283.4 M759.4,279 L753.8,356" fill="none" stroke="#333" stroke-width="1.0" stroke-linejoin="round" />
<path d="M771.3,283.4 L771.3,356" fill="none" stroke="#333" stroke-width="1.0" stroke-linejoin="round" />
<path d="M772.6,283.4 L785,283.4 L785,356 L772.6,356 Z" fill="none" stroke="#222" stroke-width="1.3" stroke-linejoin="round" />
<path d="M753.6,356 L780,356 M751.6,359.8 L785,359.8 L785,382 L751.6,382 Z" fill="none" stroke="#222" stroke-width="1.3" stroke-linejoin="round" />
<path d="M647.4,346 L647.4,280.5 Q647.8,272 654.2,271.6 L741,272.3 Q751.6,275 751.8,281 L752.5,292.8 M749,295.3 L755.9,295.3 M748.2,292.8 L752.5,292.8" fill="none" stroke="#555" stroke-width="0.9" stroke-linejoin="round" />
<path d="M653.5,350 L653.5,284.6 Q654,278.5 658,278.5 L742.2,278.2 Q747,280 747.4,284.2 L748.2,292.8" fill="none" stroke="#555" stroke-width="0.9" stroke-linejoin="round" />
<path d="M653.5,284.6 L659.6,284.6 L659.6,349 Q659.5,356.2 655,356.2 L652,356.2 Q647.5,356.2 647.4,349 L647.4,346 M645.1,345.6 L647.4,345.6" fill="none" stroke="#555" stroke-width="0.9" stroke-linejoin="round" />
<path d="M661,278.5 L665.5,271.6 M674.7,278.5 L679.2,271.6 M688.4,278.5 L692.9,271.6 M702,278.5 L706.5,271.6 M715.7,278.5 L720.2,271.6 M729.4,278.5 L733.9,271.6 M647.4,299 L653.5,295 M653.5,301 L659.7,295 M647.4,312.5 L653.5,308.5 M653.5,314.5 L659.7,308.5 M647.4,326 L653.5,322 M653.5,328 L659.7,322 M647.4,339.5 L653.5,335.5 M653.5,341.5 L659.7,335.5" fill="none" stroke="#555" stroke-width="0.7" stroke-linejoin="round" />
<path d="M738.8,292 Q739,284.5 744,284.2 M738.8,290 L738.8,345.8 Q739.5,352.6 744,352.6 L750.8,350.9 M744,287.6 L744,344 M738.8,306 L744,299 M738.8,321 L744,314 M738.8,336 L744,329 M744,351 L749,346" fill="none" stroke="#555" stroke-width="0.85" stroke-dasharray="3.5 1.8"/>
<line x1="697.3" y1="260" x2="697.3" y2="293" stroke="#555" stroke-width="0.8" stroke-dasharray="4 2 1 2"/>
<path d="M745.2,362.2 L745.2,400 Q746,401.8 748.2,401.3 Q750,400.5 749.7,398.7 Q760.5,399.5 761.2,405 L761.2,411 Q760,415.8 749.7,415.8 Q750,413 748,412.4 L745.4,412.4 L745.4,421.9 L779.5,421.9 Q790.5,421 793.3,410.8" fill="none" stroke="#333" stroke-width="1.1" stroke-linejoin="round" />
<path d="M751.6,382 L751.6,391.8 Q766.5,393 767,402 L767.2,414 L783.8,414 Q785.5,413 785.5,410 L785.5,385" fill="none" stroke="#333" stroke-width="1.1" stroke-linejoin="round" />
<path d="M751.6,384.6 L785,384.6" fill="none" stroke="#777" stroke-width="1.0" stroke-linejoin="round" />
<path d="M736.9,387 L745.2,389 M736.9,420.5 L745.2,418" fill="none" stroke="#555" stroke-width="0.7" stroke-linejoin="round" />
<path d="M695,411.5 L704,411.5 L704,405.5 L701.8,405.5 L701.8,399.1 L710.4,399.1 L710.4,412.4 Q706,419 706.5,421 Q707,424.3 710,424.3 L725.3,424.3 Q727.9,424 727.9,421.8 L727.9,407.2 L721.1,407.2 L721.1,401.2 Q721.3,399.1 723.5,399.1 L734.3,399.1 Q736.9,399.5 736.9,402.1" fill="none" stroke="#333" stroke-width="1.1" stroke-linejoin="round" />
</svg>
</body></html>
